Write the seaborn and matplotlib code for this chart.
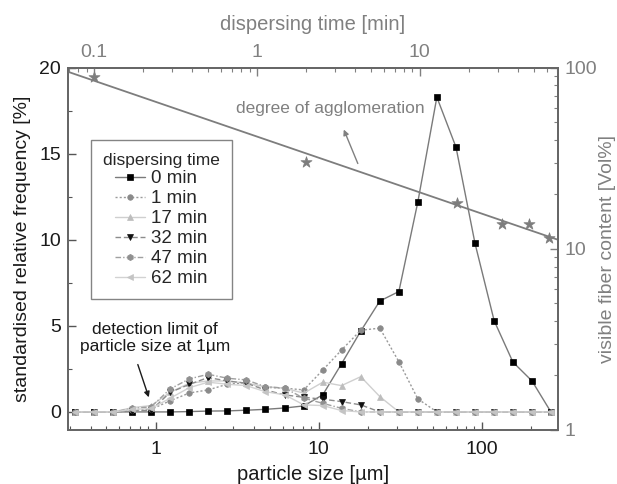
import numpy as np
import pandas as pd
import matplotlib
matplotlib.use("Agg")
import matplotlib.pyplot as plt
import seaborn as sns
from matplotlib.ticker import LogLocator, MultipleLocator, FixedLocator, NullFormatter

# particle size classes [µm]
size = [0.32, 0.42, 0.55, 0.72, 0.94, 1.23, 1.61, 2.1, 2.75, 3.6, 4.7, 6.2, 8.1,
        10.6, 13.8, 18.1, 23.7, 31, 40.5, 53, 69.4, 90.8, 119, 155, 203, 265]

# standardised relative frequency [%] per dispersing time
freq_0 = [0, 0, 0, 0, 0, 0, 0.02, 0.05, 0.06, 0.1, 0.15, 0.23, 0.35,
          1.0, 2.8, 4.7, 6.45, 7.0, 12.2, 18.3, 15.4, 9.8, 5.3, 2.9, 1.8, 0]
freq_1 = [0, 0, 0, 0.1, 0.15, 0.65, 1.1, 1.28, 1.61, 1.7, 1.43, 1.38, 1.28,
          2.44, 3.6, 4.75, 4.87, 2.92, 0.76, 0, 0, 0, 0, 0, 0, 0]
freq_17 = [0, 0, 0, 0.25, 0.37, 1.14, 1.67, 1.8, 1.8, 1.67, 1.47, 1.38, 1.09,
           1.73, 1.53, 2.05, 0.89, 0, 0, 0, 0, 0, 0, 0, 0, 0]
freq_32 = [0, 0, 0, 0.05, 0.1, 1.14, 1.6, 2.0, 1.8, 1.67, 1.28, 0.99, 0.85,
           0.74, 0.6, 0.41, 0, 0, 0, 0, 0, 0, 0, 0, 0, 0]
freq_47 = [0, 0, 0, 0.2, 0.3, 1.34, 1.92, 2.19, 1.96, 1.86, 1.47, 1.38, 0.8,
           0.5, 0.21, 0, 0, 0, 0, 0, 0, 0, 0, 0, 0, 0]
freq_62 = [0, 0, 0, 0.15, 0.2, 0.8, 1.41, 1.73, 1.61, 1.53, 1.18, 0.99, 0.41,
           0.37, 0.08, 0, 0, 0, 0, 0, 0, 0, 0, 0, 0, 0]

series_labels = ["0 min", "1 min", "17 min", "32 min", "47 min", "62 min"]
series_values = [freq_0, freq_1, freq_17, freq_32, freq_47, freq_62]

# degree of agglomeration
disp_time = [0.1, 2, 17, 32, 47, 62]
fiber_content = [89.5, 30.3, 18.0, 13.8, 13.8, 11.5]

sns.set_style("ticks")
plt.rcParams["font.family"] = ["Liberation Sans", "DejaVu Sans"]
plt.rcParams["axes.linewidth"] = 1.1

styles = [
    dict(color="#7a7a7a", ls="-", marker="s", mfc="black", mec="black", ms=4),
    dict(color="#9a9a9a", ls=(0, (1.5, 1.5)), marker="o", mfc="#8a8a8a", mec="#8a8a8a", ms=4),
    dict(color="#cfcfcf", ls="-", marker="^", mfc="#bdbdbd", mec="#bdbdbd", ms=4),
    dict(color="#8c8c8c", ls=(0, (4, 2)), marker="v", mfc="#111111", mec="#111111", ms=4.5),
    dict(color="#a0a0a0", ls=(0, (4, 1.5, 1, 1.5)), marker="h", mfc="#909090", mec="#909090", ms=4.5),
    dict(color="#d2d2d2", ls="-", marker="<", mfc="#c4c4c4", mec="#c4c4c4", ms=4),
]

fig = plt.figure(figsize=(6.17, 4.84), dpi=100)
ax = fig.add_axes([0.110, 0.1116, 0.794, 0.748])

for lab, vals, st in zip(series_labels, series_values, styles):
    df = pd.DataFrame({"size": size, "freq": vals})
    sns.lineplot(data=df, x="size", y="freq", ax=ax, label=lab, lw=1.0,
                 color=st["color"], linestyle=st["ls"], marker=st["marker"],
                 markerfacecolor=st["mfc"], markeredgecolor=st["mec"],
                 markersize=st["ms"], markeredgewidth=0.5)

ax.set_xscale("log")
ax.set_xlim(0.29, 292)
ax.set_ylim(-1.05, 20)
ax.yaxis.set_major_locator(MultipleLocator(5))
ax.yaxis.set_minor_locator(MultipleLocator(2.5))
ax.xaxis.set_major_locator(FixedLocator([1, 10, 100]))
ax.xaxis.set_minor_locator(LogLocator(base=10, subs=np.arange(2, 10)))
ax.xaxis.set_minor_formatter(NullFormatter())
ax.set_xticklabels(["1", "10", "100"])
ax.tick_params(axis="both", which="major", direction="in", length=6, width=1,
               labelsize=14, colors="#555555", labelcolor="#1a1a1a", pad=5)
ax.tick_params(axis="x", which="major", pad=8)
ax.tick_params(axis="both", which="minor", direction="in", length=3, width=0.8,
               colors="#555555")
ax.tick_params(axis="x", which="both", top=False)
ax.tick_params(axis="y", which="both", right=False)
ax.set_xlabel("particle size [µm]", fontsize=14.5, color="#1a1a1a", labelpad=5)
ax.set_ylabel("standardised relative frequency [%]", fontsize=14, color="#1a1a1a", labelpad=6)

leg = ax.legend(title="dispersing time", loc="upper left", bbox_to_anchor=(0.047, 0.80),
                borderaxespad=0, fontsize=13.5, title_fontsize=12.5, frameon=True,
                fancybox=False, edgecolor="#666666", handlelength=1.6,
                labelspacing=0.15, handletextpad=0.3, borderpad=0.65)
leg.get_frame().set_linewidth(1.0)

# right and top axes for the agglomeration trend
ax_r = ax.twinx()
ax_r.set_yscale("log")
ax_r.set_ylim(1, 100)
ax_t = ax_r.twiny()
ax_t.set_xscale("log")
ax_t.set_xlim(0.069, 70.3)

logt = np.log10(disp_time)
logv = np.log10(fiber_content)
k, d = np.polyfit(logt, logv, 1)
t_line = np.array(ax_t.get_xlim())
sns.lineplot(x=t_line, y=10 ** (k * np.log10(t_line) + d), ax=ax_t, color="#7d7d7d", lw=1.3)
sns.scatterplot(x=disp_time, y=fiber_content, ax=ax_t, marker="*", s=70,
                color="#7d7d7d", edgecolor="#7d7d7d", linewidth=0.5, zorder=5)

ax_r.yaxis.set_major_locator(FixedLocator([1, 10, 100]))
ax_r.yaxis.set_minor_locator(LogLocator(base=10, subs=np.arange(2, 10)))
ax_r.yaxis.set_minor_formatter(NullFormatter())
ax_r.set_yticklabels(["1", "10", "100"])
ax_t.xaxis.set_major_locator(FixedLocator([0.1, 1, 10]))
ax_t.xaxis.set_minor_locator(LogLocator(base=10, subs=np.arange(2, 10)))
ax_t.xaxis.set_minor_formatter(NullFormatter())
ax_t.set_xticklabels(["0.1", "1", "10"])
for a, axis in ((ax_r, "y"), (ax_t, "x")):
    a.tick_params(axis=axis, which="major", direction="in", length=6, width=1,
                  labelsize=14, colors="#808080", labelcolor="#808080", pad=5)
    a.tick_params(axis=axis, which="minor", direction="in", length=3, width=0.8,
                  colors="#808080")
ax_r.set_ylabel("visible fiber content [Vol%]", fontsize=14, color="#808080", labelpad=1)
ax_t.set_xlabel("dispersing time [min]", fontsize=14.5, color="#808080", labelpad=10)
ax_t.set_ylabel("")
for a in (ax, ax_r, ax_t):
    for sp in a.spines.values():
        sp.set_color("#666666")

# annotations
ax.text(0.535, 0.889, "degree of agglomeration", transform=ax.transAxes,
        ha="center", va="center", fontsize=12.5, color="#808080")
ax.annotate("", xy=(0.561, 0.837), xytext=(0.594, 0.729), xycoords="axes fraction",
            textcoords="axes fraction",
            arrowprops=dict(arrowstyle="-|>", color="#808080", lw=1.0, mutation_scale=8))
ax.text(0.178, 0.254, "detection limit of\nparticle size at 1µm", transform=ax.transAxes,
        ha="center", va="center", fontsize=12.5, color="#1a1a1a", linespacing=1.15)
ax.annotate("", xy=(0.167, 0.083), xytext=(0.141, 0.188), xycoords="axes fraction",
            textcoords="axes fraction",
            arrowprops=dict(arrowstyle="-|>", color="#1a1a1a", lw=1.0, mutation_scale=8))

fig.savefig("out.png", dpi=100)
